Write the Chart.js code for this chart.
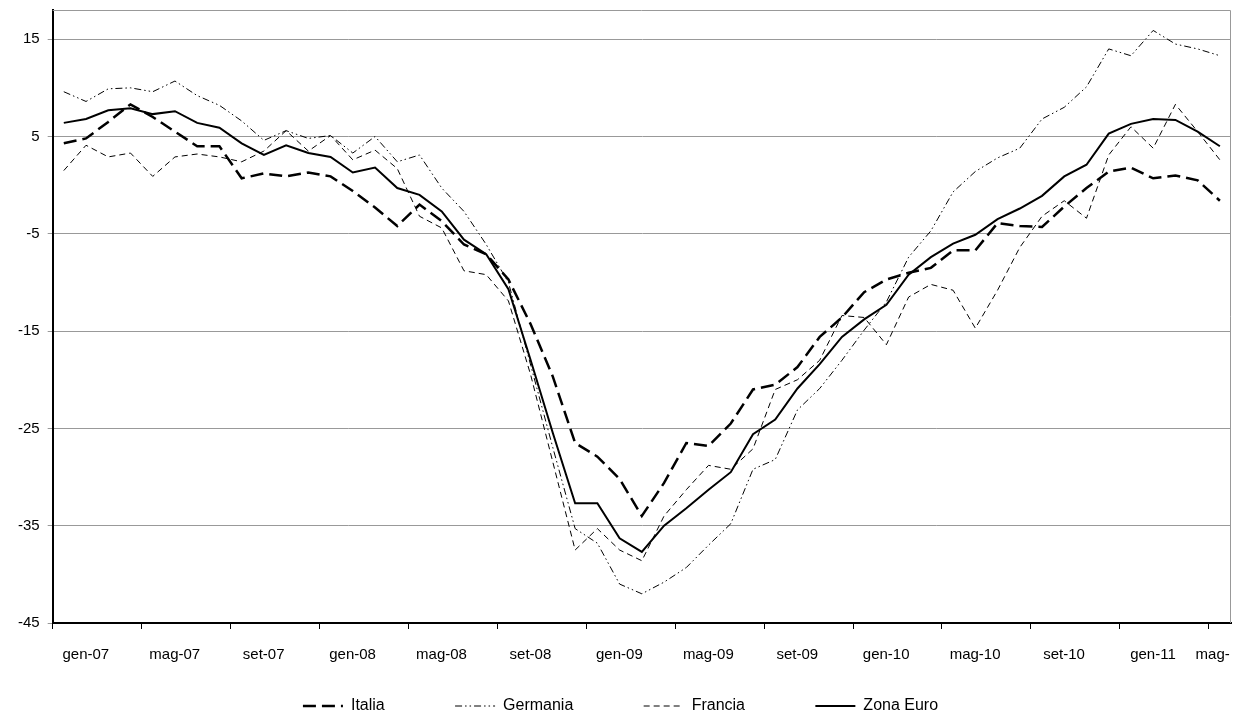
<!DOCTYPE html>
<html><head><meta charset="utf-8">
<script src="https://cdn.jsdelivr.net/npm/chart.js@4"></script>
<style>html,body{margin:0;padding:0;background:#fff}#w{width:1235px;height:728px}</style>
</head><body><div id="w"><canvas id="c"></canvas></div>
<script>
const months = ['gen','feb','mar','apr','mag','giu','lug','ago','set','ott','nov','dic'];
const labels = [];
for (let y = 7; y <= 11; y++) for (let m = 0; m < 12; m++) { if (labels.length < 53) labels.push(months[m] + '-' + String(y).padStart(2,'0')); }
const yTicks = [-45,-35,-25,-15,-5,5,15];
const italia = [4.3,4.8,6.5,8.3,7.0,5.5,4.0,4.0,0.7,1.2,0.9,1.3,0.9,-0.6,-2.3,-4.2,-2.0,-3.7,-6.1,-7.1,-9.7,-14.3,-19.7,-26.5,-27.9,-30.2,-34.0,-30.6,-26.5,-26.8,-24.5,-21.0,-20.5,-18.7,-15.6,-13.6,-11.0,-9.7,-9.0,-8.5,-6.7,-6.7,-3.9,-4.2,-4.3,-2.2,-0.3,1.4,1.8,0.7,1.0,0.5,-1.6];
const germania = [9.6,8.6,9.9,10.0,9.6,10.7,9.2,8.2,6.6,4.6,5.6,4.8,5.1,3.3,5.0,2.4,3.1,-0.3,-2.7,-6.1,-10.0,-18.5,-27.0,-35.3,-36.8,-41.0,-42.0,-40.8,-39.3,-37.0,-34.8,-29.2,-28.2,-23.1,-20.9,-18.0,-14.9,-12.0,-7.4,-4.7,-0.7,1.4,2.8,3.8,6.8,8.0,10.1,14.0,13.3,15.9,14.5,14.0,13.3];
const francia = [1.5,4.1,2.9,3.3,0.9,2.9,3.2,2.9,2.4,3.5,5.6,3.5,5.1,2.6,3.6,1.7,-3.2,-4.4,-8.8,-9.2,-11.9,-19.5,-28.5,-37.5,-35.3,-37.5,-38.6,-34.0,-31.3,-28.8,-29.2,-27.1,-21.0,-20.0,-18.0,-13.4,-13.6,-16.4,-11.5,-10.2,-10.8,-14.7,-10.8,-6.4,-3.2,-1.6,-3.4,3.1,6.0,3.8,8.3,5.5,2.6];
const zona = [6.4,6.8,7.7,7.9,7.3,7.6,6.4,5.9,4.3,3.1,4.1,3.3,2.9,1.3,1.8,-0.3,-1.0,-2.7,-5.6,-7.1,-10.7,-18.0,-25.5,-32.7,-32.7,-36.3,-37.7,-35.0,-33.2,-31.3,-29.5,-25.6,-24.1,-20.9,-18.4,-15.6,-13.8,-12.3,-9.2,-7.4,-6.0,-5.1,-3.5,-2.4,-1.1,0.9,2.1,5.3,6.3,6.8,6.7,5.5,4.0];

const F = 'Liberation Sans, Arial, sans-serif';
const PAD = '\u00a0'.repeat(12);
const mk = (label, data, w, dash) => ({label, data, borderColor:'#000', backgroundColor:'#000', borderWidth:w, borderDash:dash, pointRadius:0, tension:0, fill:false});
new Chart(document.getElementById('c'), {
  type:'line',
  data:{labels, datasets:[
    mk('Italia', italia, 2.5, [13,6]),
    mk('Germania', germania, 1, [7,3,1.5,3,1.5,3]),
    mk('Francia', francia, 1, [6,4]),
    mk('Zona Euro', zona, 2, [])
  ]},
  options:{
    responsive:true, maintainAspectRatio:false, animation:false,
    layout:{padding:{left:10,right:4,top:10,bottom:4}},
    plugins:{
      tooltip:{enabled:false},
      legend:{position:'bottom', labels:{boxWidth:40, boxHeight:2, padding:17, color:'#000', font:{family:F,size:16},
        generateLabels:(ch)=>ch.data.datasets.map((d,i)=>({text:d.label + (i<3?PAD:''), datasetIndex:i, fillStyle:'rgba(0,0,0,0)', strokeStyle:'rgba(0,0,0,0)', lineWidth:0, fontColor:'#000'}))}}
    },
    scales:{
      x:{type:'category', offset:true,
        afterFit:(s)=>{ s.paddingRight = 0; },
        grid:{offset:true, drawOnChartArea:false, tickLength:6, color:(c)=> c.index%4===0 ? '#000':'rgba(0,0,0,0)', lineWidth:1},
        border:{color:'#000', width:2},
        ticks:{autoSkip:false, maxRotation:0, color:'#000', font:{family:F,size:15}, padding:17, labelOffset:22,
          callback:(v,i)=> i%4===0 ? (i===52 ? 'mag-' + '\u00a0'.repeat(14) : labels[i]) : ''}
      },
      y:{min:-45, max:18,
        afterFit:(s)=>{ s.paddingTop = 0; },
        afterBuildTicks:(s)=>{ s.ticks = yTicks.map(v=>({value:v})); },
        grid:{color:'#999', lineWidth:1, tickLength:5, drawTicks:true},
        border:{color:'#000', width:2},
        ticks:{color:'#000', font:{family:F,size:15}, padding:8}
      }
    }
  },
  plugins:[{id:'frame', afterDraw(ch){const a=ch.chartArea,x=ch.ctx;x.save();x.strokeStyle='#999';x.lineWidth=1;x.beginPath();x.moveTo(a.left,a.top+0.5);x.lineTo(a.right-0.5,a.top+0.5);x.lineTo(a.right-0.5,a.bottom);x.stroke();
    const hb=ch.legend.legendHitBoxes||[];x.strokeStyle='#000';
    hb.forEach((b,i)=>{const d=ch.data.datasets[i];x.lineWidth=d.borderWidth;x.setLineDash(d.borderDash);const yy=b.top+b.height/2;x.beginPath();x.moveTo(b.left,yy);x.lineTo(b.left+40,yy);x.stroke();});
    x.restore();}}]
});
</script></body></html>
